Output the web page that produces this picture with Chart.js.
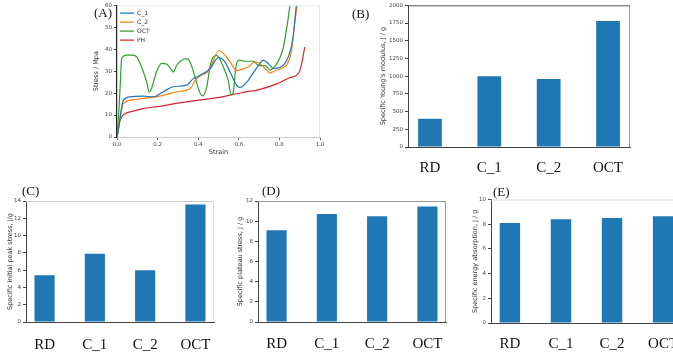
<!DOCTYPE html>
<html>
<head>
<meta charset="utf-8">
<script src="https://cdn.jsdelivr.net/npm/chart.js@4.4.0/dist/chart.umd.min.js"></script>
<style>
html, body { margin: 0; padding: 0; width: 673px; height: 354px; overflow: hidden; background: #fff; }
.panel { position: absolute; }
.tag { position: absolute; font-family: 'Liberation Serif', serif; font-size: 13px; color: #111; line-height: 13px; }
</style>
</head>
<body>
<div class="panel" style="left:92px;top:0px;width:233px;height:165px"><canvas id="chartA"></canvas></div>
<div class="panel" style="left:379px;top:0px;width:256px;height:180px"><canvas id="chartB"></canvas></div>
<div class="panel" style="left:6px;top:195px;width:213px;height:159px"><canvas id="chartC"></canvas></div>
<div class="panel" style="left:236px;top:195px;width:215px;height:159px"><canvas id="chartD"></canvas></div>
<div class="panel" style="left:471px;top:193px;width:216px;height:161px"><canvas id="chartE"></canvas></div>
<span class="tag" style="left:94px;top:6px">(A)</span>
<span class="tag" style="left:352px;top:7px">(B)</span>
<span class="tag" style="left:22px;top:184px">(C)</span>
<span class="tag" style="left:262px;top:184px">(D)</span>
<span class="tag" style="left:493px;top:185px">(E)</span>
<script>
// (A) stress-strain curves
var strainC1 = [0, 0.01, 0.02, 0.031, 0.064, 0.13, 0.18, 0.228, 0.277, 0.343, 0.376, 0.392, 0.425, 0.458, 0.5, 0.53, 0.557, 0.59, 0.606, 0.64, 0.67, 0.70, 0.72, 0.745, 0.77, 0.795, 0.82, 0.844, 0.865, 0.875, 0.885];
var stressC1 = [0, 5, 12, 16.7, 18.3, 18.6, 18.3, 20.6, 22.9, 23.6, 26.6, 27.3, 28.9, 31.1, 36.2, 34.5, 29.6, 23.5, 22.5, 25, 29, 33, 35, 33.5, 31.2, 31.5, 32.7, 36.5, 44, 52, 62];

var strainC2 = [0, 0.01, 0.02, 0.031, 0.08, 0.16, 0.228, 0.294, 0.36, 0.392, 0.425, 0.455, 0.475, 0.5, 0.53, 0.557, 0.59, 0.616, 0.647, 0.68, 0.704, 0.729, 0.754, 0.778, 0.811, 0.844, 0.86, 0.877, 0.89];
var stressC2 = [0, 5, 11, 15.2, 17, 17.9, 19, 20.6, 22.1, 26.6, 28.6, 30.4, 35, 39.4, 37.5, 34.2, 30.2, 30.8, 32, 34.2, 33.5, 31.2, 29.2, 30.2, 31.2, 34.2, 39.6, 53, 62];

var strainOCT = [0, 0.008, 0.016, 0.023, 0.048, 0.08, 0.097, 0.121, 0.146, 0.159, 0.17, 0.195, 0.22, 0.245, 0.27, 0.278, 0.294, 0.319, 0.343, 0.36, 0.384, 0.409, 0.422, 0.441, 0.458, 0.474, 0.49, 0.524, 0.548, 0.562, 0.572, 0.585, 0.6, 0.64, 0.67, 0.70, 0.73, 0.755, 0.78, 0.80, 0.82, 0.84, 0.855];
var stressOCT = [0, 10, 24, 35.7, 37.3, 37.3, 36.5, 31.9, 25.1, 20.5, 22.1, 29.7, 33.5, 33.2, 30.4, 29.6, 32.7, 35, 35.7, 34.2, 27.4, 20.1, 18.7, 22.4, 31.9, 36.5, 37.2, 31.9, 25.8, 19.3, 20, 31.5, 35, 34.5, 34.5, 32.5, 32.5, 30.5, 32.5, 35.5, 41, 52, 62];

var strainPH = [0, 0.01, 0.023, 0.039, 0.08, 0.13, 0.2, 0.29, 0.36, 0.46, 0.52, 0.565, 0.62, 0.7, 0.79, 0.85, 0.89, 0.905, 0.915, 0.925];
var stressPH = [0, 6, 9.1, 10.6, 11.8, 12.9, 13.8, 15.3, 16.2, 17.5, 18.3, 19.3, 20.3, 21.6, 24.3, 27.0, 28.5, 31.5, 36, 41];

var strainTicks = [0, 0.2, 0.4, 0.6, 0.8, 1.0];
var stressTicks = [0, 10, 20, 30, 40, 50, 60];

// (B)-(E) bar panels
var categories = ['RD', 'C_1', 'C_2', 'OCT'];
var youngModulus = [400, 1000, 960, 1780];
var peakStress = [5.4, 7.9, 6.0, 13.6];
var plateauStress = [9.1, 10.7, 10.5, 11.45];
var energyAbsorption = [8.1, 8.4, 8.5, 8.65];

var youngTicks = [0, 250, 500, 750, 1000, 1250, 1500, 1750, 2000];
var peakTicks = [0, 2, 4, 6, 8, 10, 12, 14];
var plateauTicks = [0, 2, 4, 6, 8, 10, 12];
var energyTicks = [0, 2, 4, 6, 8, 10];

var barBlue = '#1f77b4';

var framePlugin = {
    id: 'frame',
    afterDraw: function (chart, args, opts) {
        var a = chart.chartArea;
        var ctx = chart.ctx;
        ctx.save();
        ctx.lineWidth = 1;
        ctx.strokeStyle = opts.top;
        ctx.beginPath();
        ctx.moveTo(a.left, a.top + 0.5);
        ctx.lineTo(a.right, a.top + 0.5);
        ctx.stroke();
        ctx.strokeStyle = opts.right;
        ctx.beginPath();
        ctx.moveTo(a.right - 0.5, a.top);
        ctx.lineTo(a.right - 0.5, a.bottom);
        ctx.stroke();
        ctx.restore();
    }
};

function pts(xs, ys) {
    return xs.map(function (x, i) { return { x: x, y: ys[i] }; });
}

function curve(label, xs, ys, color) {
    return {
        label: label,
        data: pts(xs, ys),
        borderColor: color,
        backgroundColor: color,
        borderWidth: 1.2,
        showLine: true,
        pointRadius: 0,
        cubicInterpolationMode: 'monotone'
    };
}

// keep the plot box where the figure has it, labels may hang over the edges
function noEdgePad(s) {
    s.paddingLeft = 0;
    s.paddingRight = 0;
}

new Chart(document.getElementById('chartA'), {
    type: 'scatter',
    data: {
        datasets: [
            curve('C_1', strainC1, stressC1, '#1f77b4'),
            curve('C_2', strainC2, stressC2, '#ff7f0e'),
            curve('OCT', strainOCT, stressOCT, '#2ca02c'),
            curve('PH', strainPH, stressPH, '#d62728')
        ]
    },
    plugins: [framePlugin],
    options: {
        responsive: true,
        maintainAspectRatio: false,
        animation: false,
        layout: { padding: { top: 5, right: 5, left: 0, bottom: 0 } },
        plugins: {
            tooltip: { enabled: false },
            frame: { top: '#e6e6e6', right: '#e6e6e6' },
            legend: {
                position: 'chartArea',
                align: 'start',
                title: { display: true, text: '', font: { size: 1 }, padding: { top: 6, bottom: 0 } },
                labels: {
                    usePointStyle: true,
                    pointStyle: 'line',
                    pointStyleWidth: 14,
                    boxHeight: 6,
                    padding: 3,
                    color: '#333',
                    font: { family: 'DejaVu Sans', size: 6 }
                }
            }
        },
        scales: {
            x: {
                type: 'linear', min: 0, max: 1,
                afterBuildTicks: function (s) { s.ticks = strainTicks.map(function (v) { return { value: v }; }); },
                afterFit: function (s) { s.height = 28; noEdgePad(s); },
                ticks: { callback: function (v) { return v.toFixed(1); }, font: { family: 'DejaVu Sans', size: 5.5 }, color: '#444', padding: 1, maxRotation: 0 },
                grid: { drawOnChartArea: false, tickLength: 3, color: '#666' },
                border: { color: '#ccc' },
                title: { display: true, text: 'Strain', font: { family: 'DejaVu Sans', size: 6.5 }, color: '#333', padding: { top: 0, bottom: 9 } }
            },
            y: {
                min: 0, max: 60,
                afterBuildTicks: function (s) { s.ticks = stressTicks.map(function (v) { return { value: v }; }); },
                afterFit: function (s) { s.width = 25; },
                ticks: { font: { family: 'DejaVu Sans', size: 5.5 }, color: '#444', padding: 2 },
                grid: { drawOnChartArea: false, tickLength: 3, color: '#444' },
                border: { color: '#222', width: 1.2 },
                title: { display: true, text: 'Stress / Mpa', font: { family: 'DejaVu Sans', size: 6.5 }, color: '#333', padding: 0 }
            }
        }
    }
});

function makeBar(id, values, yTicks, yTitle, yW, xH, padTop, labelPad, frame) {
    new Chart(document.getElementById(id), {
        type: 'bar',
        data: {
            datasets: [{
                data: values.map(function (v, i) { return { x: i, y: v }; }),
                backgroundColor: barBlue,
                barPercentage: 0.4,
                categoryPercentage: 1
            }]
        },
        plugins: [framePlugin],
        options: {
            responsive: true,
            maintainAspectRatio: false,
            animation: false,
            layout: { padding: { top: padTop, right: 5, left: 0, bottom: 0 } },
            plugins: { legend: { display: false }, tooltip: { enabled: false }, frame: frame },
            scales: {
                x: {
                    type: 'linear', min: -0.37, max: 3.37, offset: false,
                    afterBuildTicks: function (s) { s.ticks = categories.map(function (c, i) { return { value: i }; }); },
                    afterFit: function (s) { s.height = xH; noEdgePad(s); },
                    ticks: {
                        callback: function (v) { return categories[v]; },
                        font: { family: 'Liberation Serif', size: 15 },
                        color: '#111', padding: labelPad, maxRotation: 0, autoSkip: false
                    },
                    grid: { display: false, drawTicks: false, offset: false },
                    border: { color: '#444' }
                },
                y: {
                    min: 0, max: yTicks[yTicks.length - 1],
                    afterBuildTicks: function (s) { s.ticks = yTicks.map(function (v) { return { value: v }; }); },
                    afterFit: function (s) { s.width = yW; },
                    ticks: { callback: function (v) { return String(v); }, font: { family: 'DejaVu Sans', size: 5.5 }, color: '#444', padding: 2 },
                    grid: { drawOnChartArea: false, tickLength: 3, color: '#444' },
                    border: { color: '#444' },
                    title: { display: true, text: yTitle, font: { family: 'DejaVu Sans', size: 6.5 }, color: '#333', padding: 0 }
                }
            }
        }
    });
}

makeBar('chartB', youngModulus, youngTicks, "Specific Young's modulus, J / g", 29, 33, 5, 12, { top: '#555', right: '#999' });
makeBar('chartC', peakStress, peakTicks, 'Specific initial peak stress, J/g', 20, 32, 6, 14, { top: '#ccc', right: '#ddd' });
makeBar('chartD', plateauStress, plateauTicks, 'Specific plateau stress, J / g', 22, 32, 6, 13, { top: '#999', right: '#999' });
makeBar('chartE', energyAbsorption, energyTicks, 'Specific energy absorption, J / g', 20, 31, 6.5, 12, { top: '#ddd', right: '#ddd' });
</script>
</body>
</html>
